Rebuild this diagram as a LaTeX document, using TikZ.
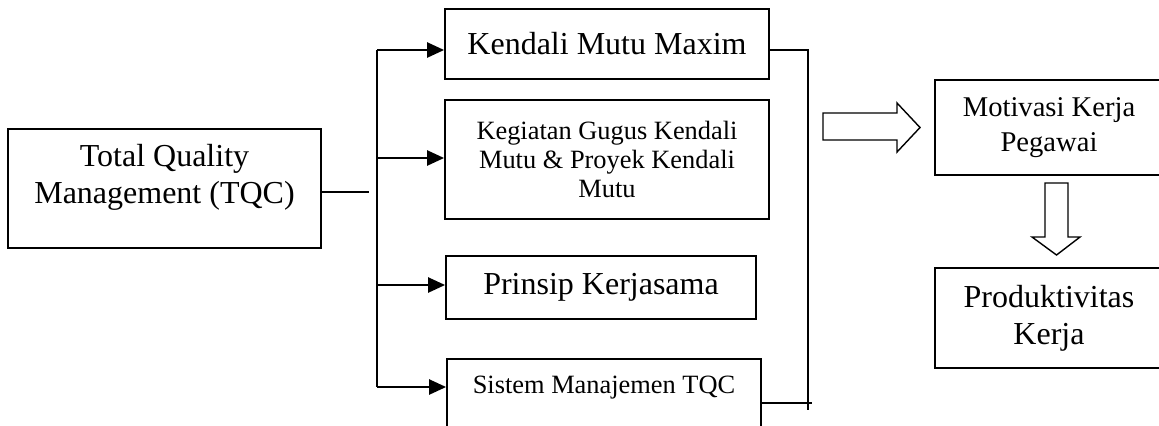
\documentclass[tikz,border=0pt]{standalone}
\usepackage{fontspec}
\setmainfont{Liberation Serif}
\usetikzlibrary{arrows.meta}

\newcommand\fontbig{\fontsize{16pt}{18.5pt}\selectfont}
\newcommand\fontmid{\fontsize{14.3pt}{17.5pt}\selectfont}
\newcommand\fontsmall{\fontsize{13.2pt}{14.5pt}\selectfont}

\tikzset{
  box/.style={draw, line width=0.9pt, rectangle, inner sep=0pt, align=center},
  link/.style={line width=1.2pt},
  feed/.style={line width=1.2pt, -{Triangle[length=8.5pt,width=7.5pt]}},
  fat/.style={draw, line width=0.7pt, line join=miter}
}

\begin{document}
\begin{tikzpicture}[x=0.5pt,y=-0.5pt]
                \useasboundingbox (0,0) rectangle (1159,425);
                % left box
                \node[box, minimum width=156.5pt, minimum height=59.5pt] (tqc) at (164.5,188.5) {};
                \node[align=center, font=\fontbig, inner sep=0pt] (tqclabel) at (164.5,177) {Total Quality\\Management (TQC)};
                % middle column
                \node[box, font=\fontbig, minimum width=162pt, minimum height=35pt] (maxim) at (607,44) {Kendali Mutu Maxim};
                \node[box, font=\fontsmall, minimum width=162pt, minimum height=59.5pt] (gugus) at (607,159.5) {Kegiatan Gugus Kendali\\Mutu \& Proyek Kendali\\Mutu};
                \node[box, font=\fontbig, minimum width=155pt, minimum height=31.5pt] (prinsip) at (601,287.5) {Prinsip Kerjasama};
                \node[box, minimum width=157pt, minimum height=40.5pt] (sistem) at (604,399.5) {};
                \node[font=\fontsmall, inner sep=0pt] (sistemlabel) at (604,388) {Sistem Manajemen TQC};
                % right column
                \node[box, font=\fontmid, minimum width=114pt, minimum height=47.5pt] (motivasi) at (1049,127.5) {Motivasi Kerja\\Pegawai};
                \node[box, font=\fontbig, minimum width=114pt, minimum height=50pt] (produk) at (1049,318) {Produktivitas\\Kerja};
                % branching lines
                \coordinate (split) at (369,192);
                \coordinate (f1) at (377,50);
                \coordinate (f2) at (377,158);
                \coordinate (f3) at (377,285);
                \coordinate (f4) at (377,387);
                \draw[link] (split -| tqc.east) -- (split);
                \draw[link] (f1) -- (f4);
                \draw[feed] (f1) -- (f1 -| maxim.west);
                \draw[feed] (f2) -- (f2 -| gugus.west);
                \draw[feed] (f3) -- (f3 -| prinsip.west);
                \draw[feed] (f4) -- (f4 -| sistem.west);
                % collecting line
                \coordinate (r1) at (808,50);
                \coordinate (r2) at (808,410);
                \coordinate (r3) at (812,403);
                \draw[link] (r1 -| maxim.east) -- (r1) -- (r2);
                \draw[link] (r3 -| sistem.east) -- (r3);
                % block arrows
                \draw[fat] (823,113) -- (897,113) -- (897,103) -- (920,127.5) -- (897,152) -- (897,140) -- (823,140) -- cycle;
                \draw[fat] (1045,183) -- (1068,183) -- (1068,237) -- (1080,237) -- (1056.5,255) -- (1032,237) -- (1045,237) -- cycle;
            \end{tikzpicture}
\end{document}
